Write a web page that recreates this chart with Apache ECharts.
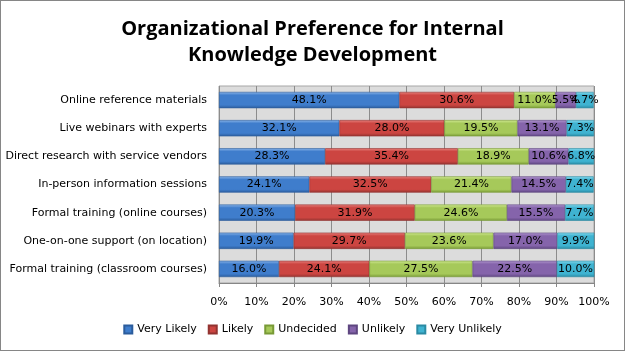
<!DOCTYPE html>
<html>
<head>
<meta charset="utf-8">
<script src="https://cdn.jsdelivr.net/npm/echarts@6/dist/echarts.min.js"></script>
<style>
html, body { margin: 0; padding: 0; background: #fff; }
#main { position: absolute; left: 0; top: 0; width: 623px; height: 349px; border: 1px solid #868686; }
</style>
</head>
<body>
<div id="main"></div>
<script>
// categories, top to bottom
var categories = [
    'Online reference materials',
    'Live webinars with experts',
    'Direct research with service vendors',
    'In-person information sessions',
    'Formal training (online courses)',
    'One-on-one support (on location)',
    'Formal training (classroom courses)'
];
var seriesNames = ['Very Likely', 'Likely', 'Undecided', 'Unlikely', 'Very Unlikely'];
var veryLikely   = [48.1, 32.1, 28.3, 24.1, 20.3, 19.9, 16.0];
var likely       = [30.6, 28.0, 35.4, 32.5, 31.9, 29.7, 24.1];
var undecided    = [11.0, 19.5, 18.9, 21.4, 24.6, 23.6, 27.5];
var unlikely     = [5.5, 13.1, 10.6, 14.5, 15.5, 17.0, 22.5];
var veryUnlikely = [4.7, 7.3, 6.8, 7.4, 7.7, 9.9, 10.0];
var allData = [veryLikely, likely, undecided, unlikely, veryUnlikely];

// colours: [top light, middle, bottom dark]
var palette = [
    ['#8db7ea', '#3f7dcc', '#2b5c9c'],
    ['#e8837f', '#cc4541', '#923330'],
    ['#d2ea95', '#a6c95a', '#789a36'],
    ['#b39ad0', '#8564ab', '#5e4680'],
    ['#8ddcee', '#3fb3d1', '#2a8aa3']
];

var chart = echarts.init(document.getElementById('main'));

var series = seriesNames.map(function (name, i) {
    var c = palette[i];
    return {
        name: name,
        type: 'bar',
        stack: 'total',
        barWidth: '58%',
        data: allData[i],
        itemStyle: {
            color: new echarts.graphic.LinearGradient(0, 0, 0, 1, [
                {offset: 0, color: c[0]},
                {offset: 0.2, color: c[1]},
                {offset: 0.8, color: c[1]},
                {offset: 1, color: c[2]}
            ]),
            borderColor: c[2],
            borderWidth: 0.6
        },
        label: {
            show: true,
            position: 'inside',
            color: '#000',
            fontFamily: 'DejaVu Sans',
            fontSize: 11,
            formatter: function (p) { return p.value.toFixed(1) + '%'; }
        }
    };
});

var option = {
    animation: false,
    title: {
        text: 'Organizational Preference for Internal\nKnowledge Development',
        left: 'center',
        top: 10,
        textStyle: {
            fontFamily: 'Open Sans',
            fontWeight: 'bold',
            fontSize: 20,
            lineHeight: 26,
            color: '#000'
        }
    },
    legend: {
        data: seriesNames,
        bottom: 10,
        left: 'center',
        icon: 'rect',
        itemWidth: 8,
        itemHeight: 8,
        itemGap: 11,
        textStyle: {fontFamily: 'DejaVu Sans', fontSize: 11, color: '#000'}
    },
    grid: {
        left: 218,
        right: 30,
        top: 85,
        bottom: 67,
        show: true,
        backgroundColor: '#dcdcdc',
        borderColor: '#a6a6a6',
        borderWidth: 1
    },
    xAxis: {
        type: 'value',
        min: 0,
        max: 100,
        interval: 10,
        axisLabel: {
            formatter: '{value}%',
            margin: 14,
            fontFamily: 'DejaVu Sans',
            fontSize: 11,
            color: '#000'
        },
        axisLine: {show: true, lineStyle: {color: '#868686'}},
        axisTick: {show: true, length: 4, lineStyle: {color: '#868686'}},
        splitLine: {show: true, lineStyle: {color: '#8c8c8c', width: 1}}
    },
    yAxis: {
        type: 'category',
        inverse: true,
        data: categories,
        axisLine: {show: false},
        axisTick: {show: false},
        axisLabel: {
            margin: 12,
            fontFamily: 'DejaVu Sans',
            fontSize: 11,
            color: '#000'
        }
    },
    series: series
};

chart.setOption(option);
</script>
</body>
</html>
